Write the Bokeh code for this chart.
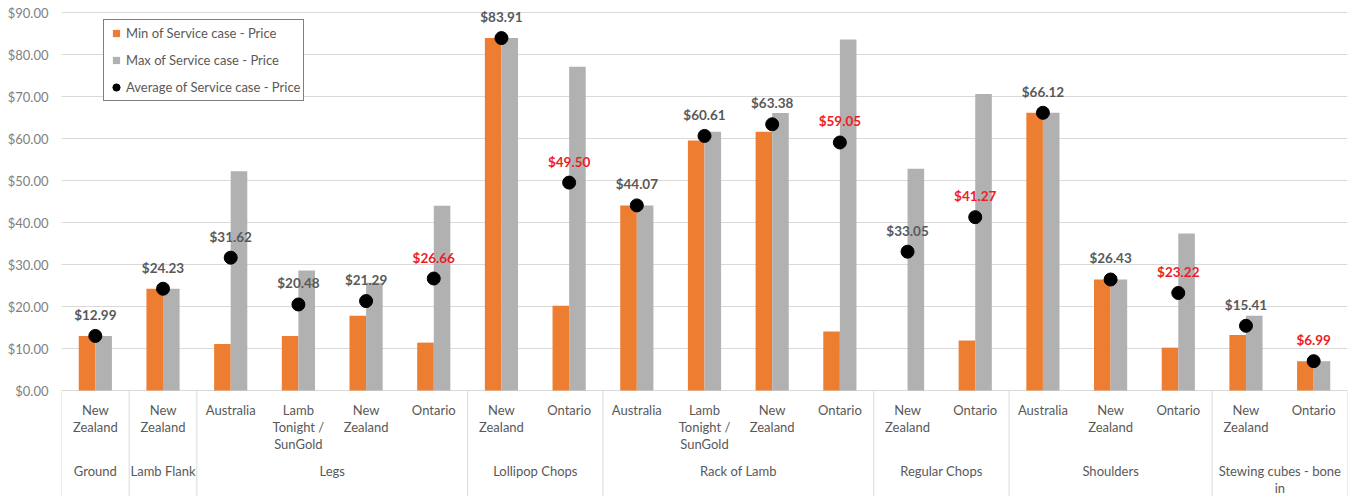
from bokeh.plotting import figure
from bokeh.models import (ColumnDataSource, FactorRange, FixedTicker, NumeralTickFormatter,
                          Legend, LegendItem)
from bokeh.transform import dodge
from bokeh.core.properties import value
from bokeh.embed import file_html
from bokeh.resources import INLINE

# ---------------- data ----------------
groups = ["Ground", "Lamb Flank", "Legs", "Legs", "Legs", "Legs",
          "Lollipop Chops", "Lollipop Chops",
          "Rack of Lamb", "Rack of Lamb", "Rack of Lamb", "Rack of Lamb",
          "Regular Chops", "Regular Chops",
          "Shoulders", "Shoulders", "Shoulders",
          "Stewing cubes - bone in", "Stewing cubes - bone in"]
subs = ["New Zealand", "New Zealand", "Australia", "Lamb Tonight / SunGold", "New Zealand", "Ontario",
        "New Zealand", "Ontario",
        "Australia", "Lamb Tonight / SunGold", "New Zealand", "Ontario",
        "New Zealand", "Ontario",
        "Australia", "New Zealand", "Ontario",
        "New Zealand", "Ontario"]
min_price = [12.99, 24.23, 11.10, 12.99, 17.80, 11.40,
             83.91, 20.20,
             44.07, 59.50, 61.60, 14.05,
             float("nan"), 11.90,
             66.12, 26.43, 10.20,
             13.20, 6.99]
max_price = [12.99, 24.23, 52.20, 28.60, 25.65, 44.00,
             83.91, 77.06,
             44.07, 61.60, 66.10, 83.60,
             52.80, 70.60,
             66.12, 26.43, 37.40,
             17.80, 6.99]
avg_price = [12.99, 24.23, 31.62, 20.48, 21.29, 26.66,
             83.91, 49.50,
             44.07, 60.61, 63.38, 59.05,
             33.05, 41.27,
             66.12, 26.43, 23.22,
             15.41, 6.99]
y_ticks = [0, 10, 20, 30, 40, 50, 60, 70, 80, 90]

# wrapped display texts
sub_display = {"New Zealand": "New\nZealand",
               "Lamb Tonight / SunGold": "Lamb\nTonight /\nSunGold",
               "Australia": "Australia", "Ontario": "Ontario"}
group_display = {"Stewing cubes - bone in": "Stewing cubes - bone\nin"}

ORANGE = "#ED7D31"
GRAY = "#B1B1B1"
TXT = "#595959"
RED = "#EE1C25"
FONT = "Lato"

# ---------------- geometry ----------------
W, H = 1355, 496
ZERO_PX = 390.0     # pixel row of $0 inside the figure
TOP_PX = 12.0       # pixel row of $90
PPU = (ZERO_PX - TOP_PX) / 90.0
y_end = 90 + TOP_PX / PPU
y_start = -(H - ZERO_PX) / PPU
LINE_H = 1.08


def dy(px):
    return px / PPU


factors = list(zip(groups, subs))
xr = FactorRange(factors=factors, group_padding=0, factor_padding=0, range_padding=0)

p = figure(width=W, height=H, x_range=xr, y_range=(y_start, y_end),
           output_backend="svg", toolbar_location=None,
           min_border_top=0, min_border_bottom=0, min_border_right=8, min_border_left=61)
p.outline_line_color = None
p.background_fill_color = "white"
p.xaxis.visible = False
p.xgrid.visible = False

p.yaxis.ticker = FixedTicker(ticks=y_ticks)
p.yaxis.formatter = NumeralTickFormatter(format="$0.00")
p.yaxis.axis_line_color = None
p.yaxis.major_tick_line_color = None
p.yaxis.minor_tick_line_color = None
p.yaxis.major_tick_out = 0
p.yaxis.major_tick_in = 0
p.yaxis.major_label_standoff = 13
p.yaxis.major_label_text_font = FONT
p.yaxis.major_label_text_font_size = "13px"
p.yaxis.major_label_text_color = "#7F7F7F"
p.ygrid.grid_line_color = "#D9D9D9"
p.ygrid.grid_line_width = 1

src = ColumnDataSource(dict(
    x=factors, mn=min_price, mx=max_price, av=avg_price,
    lab=["${:.2f}".format(v) for v in avg_price],
    lab_y=[v + dy(21) for v in avg_price],
    lab_c=[RED if s == "Ontario" else TXT for s in subs],
    sub_txt=[sub_display[s] for s in subs],
))

BW = 0.245
r_min = p.vbar(x=dodge("x", -0.1225, range=xr), top="mn", width=BW, source=src,
               fill_color=ORANGE, line_color=None)
r_max = p.vbar(x=dodge("x", 0.1225, range=xr), top="mx", width=BW, source=src,
               fill_color=GRAY, line_color=None)
r_avg = p.scatter(x="x", y="av", source=src, size=13, marker="circle",
                  fill_color="black", line_color="black")

p.text(x="x", y="lab_y", text="lab", source=src, text_color="lab_c",
       text_font=value(FONT), text_font_size="13.5px", text_font_style="bold",
       text_align="center", text_baseline="middle")

# category labels (below the $0 line)
p.text(x="x", y=-dy(11), text="sub_txt", source=src,
       text_color=TXT, text_font=value(FONT), text_font_size="13px",
       text_align="center", text_baseline="top", text_line_height=LINE_H)

group_names = list(dict.fromkeys(groups))
gsrc = ColumnDataSource(dict(
    x=group_names,
    t=[group_display.get(g, g) for g in group_names],
))
p.text(x="x", y=-dy(72), text="t", source=gsrc,
       text_color=TXT, text_font=value(FONT), text_font_size="13px",
       text_align="center", text_baseline="top", text_line_height=LINE_H)

# group separators
first_of_group = []
seen = set()
for g, s in factors:
    if g not in seen:
        seen.add(g)
        first_of_group.append((g, s))
sep_src = ColumnDataSource(dict(x=first_of_group))
p.segment(x0=dodge("x", -0.5, range=xr), x1=dodge("x", -0.5, range=xr),
          y0=0, y1=y_start, source=sep_src, line_color="#D9D9D9", line_width=1)
end_src = ColumnDataSource(dict(x=[factors[-1]]))
p.segment(x0=dodge("x", 0.5, range=xr), x1=dodge("x", 0.5, range=xr),
          y0=0, y1=y_start, source=end_src, line_color="#D9D9D9", line_width=1)

# legend (square swatches) - hidden dummy points, legend only
dummy = ColumnDataSource(dict(x=[factors[0]], y=[float("nan")]))
leg_min = p.scatter(x="x", y="y", source=dummy, marker="square", size=8,
                    fill_color=ORANGE, line_color=None)
leg_max = p.scatter(x="x", y="y", source=dummy, marker="square", size=8,
                    fill_color=GRAY, line_color=None)
legend = Legend(items=[
    LegendItem(label="Min of Service case - Price", renderers=[leg_min]),
    LegendItem(label="Max of Service case - Price", renderers=[leg_max]),
    LegendItem(label="Average of Service case - Price", renderers=[r_avg]),
], location=(42, 395))
legend.glyph_width = 18
legend.glyph_height = 20
legend.label_height = 20
legend.spacing = 7
legend.padding = 3
legend.margin = 0
legend.label_standoff = 1
legend.label_text_font = FONT
legend.label_text_font_size = "13px"
legend.label_text_color = TXT
legend.border_line_color = "black"
legend.border_line_width = 1
legend.background_fill_color = "white"
legend.background_fill_alpha = 1
p.add_layout(legend, "center")

open("out.html", "w").write(file_html(p, INLINE))
